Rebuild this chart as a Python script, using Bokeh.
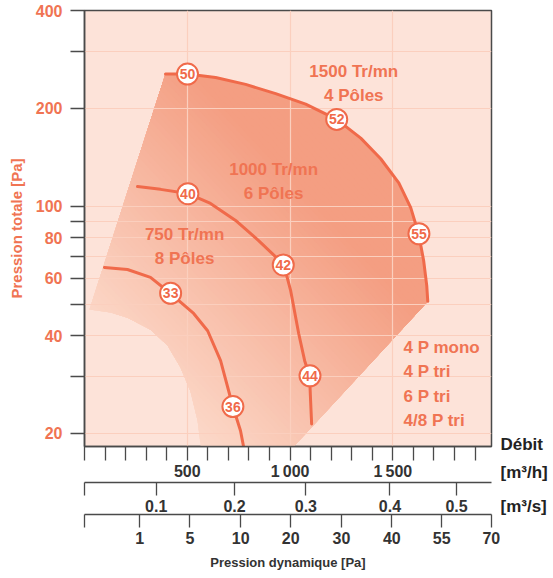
import numpy as np
from bokeh.plotting import figure
from bokeh.layouts import row
from bokeh.models import Range1d, FixedTicker, LinearAxis
from bokeh.embed import file_html
from bokeh.resources import INLINE
from bokeh.core.properties import value

# ---------------- data (flow in m3/h, pressure in Pa) ----------------
X_START, X_END = 0, 1980
Y_START, Y_END = 18.24, 400

flow_4p = [394, 501, 638, 784, 930, 1076, 1227, 1344, 1441, 1529, 1587, 1626, 1650, 1665, 1670]
pres_4p = [255, 255, 249, 237, 222, 206, 185, 162, 140, 118, 99, 82, 68, 57, 51]

flow_6p = [258, 370, 501, 613, 735, 847, 969, 1003, 1042, 1071, 1095, 1100, 1105]
pres_6p = [115, 112.7, 109.5, 102, 90.4, 78.4, 66.2, 55.0, 40.6, 33.5, 30.1, 25.2, 21.4]

flow_8p = [97, 209, 321, 419, 531, 599, 662, 721, 759, 774]
pres_8p = [64.8, 63.9, 60.4, 53.9, 46.8, 41.4, 33.5, 24.3, 20.4, 18.2]

# lower envelope of the operating zone (after the end of the 4P curve)
env_flow = [1017, 565, 550, 516, 467, 404, 321, 209, 127, 24]
env_pres = [18.2, 18.2, 21.9, 26.9, 31.9, 37.3, 41.7, 45.4, 47.1, 48.1]

mk_flow = [501, 1227, 1627, 503, 967, 1097, 419, 722]
mk_pres = [255, 185, 82.3, 109.3, 66.0, 30.1, 54.0, 24.2]
mk_text = ["50", "52", "55", "40", "42", "44", "33", "36"]

zone_text = ["1500 Tr/mn\n4 Pôles", "1000 Tr/mn\n6 Pôles", "750 Tr/mn\n8 Pôles"]
zone_flow = [1310, 920, 487]
zone_pres = [238, 119.2, 75.2]

legend_text = "4 P mono\n4 P tri\n6 P tri\n4/8 P tri"
legend_flow = 1552
legend_pres = 28.4

y_ticks = [20, 30, 40, 50, 60, 70, 80, 90, 100, 200, 300, 400]
y_labels = ["20", "", "40", "", "60", "", "80", "", "100", "200", "", "400"]

flow_ticks = [0, 100, 200, 300, 400, 500, 600, 700, 800, 900, 1000,
              1100, 1200, 1300, 1400, 1500, 1600, 1700, 1800, 1900]
flow_labels = {500: "500", 1000: "1\u2009000", 1500: "1\u2009500"}

ms_pos = [0, 349, 730, 1077, 1486, 1810]
ms_labels = ["", "0.1", "0.2", "0.3", "0.4", "0.5"]

pa_pos = [0, 268, 513, 760, 1003, 1250, 1495, 1738, 1979]
pa_labels = ["", "1", "5", "10", "20", "30", "40", "55", "70"]

grid_x = [500, 1000, 1500]

unit_texts = ["Débit", "[m³/h]", "[m³/s]"]

# ---------------- style ----------------
FONT = "Liberation Sans"
ORANGE = "#f06a4a"
TXT = "#f07453"
DARK = "#4a4a4a"
BG = "#fde3d9"
GRID = "#fbcfbe"
LIGHT_RGB = np.array([252, 216, 200])
DEEP_RGB = np.array([244, 158, 130])
H = 574

p = figure(width=500, height=H, x_range=Range1d(X_START, X_END),
           y_range=Range1d(Y_START, Y_END), y_axis_type="log",
           output_backend="svg", toolbar_location=None,
           min_border_left=84, min_border_right=9, min_border_top=10,
           min_border_bottom=128)
p.frame_align = False
p.background_fill_color = BG
p.border_fill_color = "white"
p.outline_line_color = DARK
p.outline_line_width = 1.5

# grid
p.xgrid.ticker = FixedTicker(ticks=grid_x)
p.ygrid.ticker = FixedTicker(ticks=y_ticks)
for g in (p.xgrid[0], p.ygrid[0]):
    g.grid_line_color = GRID
    g.grid_line_width = 1.2

# ---------------- gradient zone ----------------
poly_x = np.array(flow_4p + env_flow, dtype=float)
poly_y = np.array(pres_4p + env_pres, dtype=float)
ly0, ly1 = np.log10(Y_START), np.log10(Y_END)
U = (poly_x - X_START) / (X_END - X_START)
V = (np.log10(poly_y) - ly0) / (ly1 - ly0)


def clip(us, vs, t):
    ou, ov = [], []
    n = len(us)
    for i in range(n):
        u1, v1, u2, v2 = us[i], vs[i], us[(i + 1) % n], vs[(i + 1) % n]
        f1, f2 = u1 + v1 - t, u2 + v2 - t
        if f1 >= 0:
            ou.append(u1); ov.append(v1)
        if (f1 >= 0) != (f2 >= 0):
            r = f1 / (f1 - f2)
            ou.append(u1 + r * (u2 - u1)); ov.append(v1 + r * (v2 - v1))
    return np.array(ou), np.array(ov)


S = U + V
s_lo, s_hi = 0.30, 1.12
xs, ys, cols = [], [], []
for t in np.linspace(S.min() - 1e-6, S.max(), 70)[:-1]:
    cu, cv = clip(U, V, t)
    if len(cu) < 3:
        continue
    f = min(max((t - s_lo) / (s_hi - s_lo), 0), 1)
    c = (LIGHT_RGB + f * (DEEP_RGB - LIGHT_RGB)).astype(int)
    xs.append(list(X_START + cu * (X_END - X_START)))
    ys.append(list(10 ** (ly0 + cv * (ly1 - ly0))))
    cols.append("#%02x%02x%02x" % tuple(c))
p.patches(xs=xs, ys=ys, fill_color=cols, line_color=None, level="image")

# ---------------- curves ----------------
for fx, py in ((flow_4p, pres_4p), (flow_6p, pres_6p), (flow_8p, pres_8p)):
    p.line(fx, py, line_color=ORANGE, line_width=3, line_cap="round",
           line_join="round")

p.scatter(mk_flow, mk_pres, marker="circle", size=21, fill_color="white",
          line_color=ORANGE, line_width=2)
p.text(mk_flow, mk_pres, text=mk_text, text_font=value(FONT), text_font_style="bold",
       text_font_size="14px", text_color=ORANGE, text_align="center",
       text_baseline="middle")

p.text(zone_flow, zone_pres, text=zone_text, text_font=value(FONT),
       text_font_style="bold", text_font_size="17px", text_color=TXT,
       text_align="center", text_baseline="middle", text_line_height=1.25)
p.text([legend_flow], [legend_pres], text=[legend_text], text_font=value(FONT),
       text_font_style="bold", text_font_size="17px", text_color=TXT,
       text_align="left", text_baseline="middle", text_line_height=1.27)

# ---------------- axes ----------------
ya = p.left[0]
ya.ticker = FixedTicker(ticks=y_ticks)
ya.major_label_overrides = dict(zip(y_ticks, y_labels))
ya.major_tick_in = 0
ya.major_tick_out = 14
ya.minor_tick_line_color = None
ya.major_tick_line_color = DARK
ya.major_tick_line_width = 1.5
ya.axis_line_color = DARK
ya.axis_line_width = 1.5
ya.major_label_standoff = 8
ya.major_label_text_font = FONT
ya.major_label_text_font_style = "bold"
ya.major_label_text_font_size = "16px"
ya.major_label_text_color = TXT
ya.axis_label = "Pression totale [Pa]"
ya.axis_label_text_font = FONT
ya.axis_label_text_font_style = "bold"
ya.axis_label_text_font_size = "15px"
ya.axis_label_text_color = TXT
ya.axis_label_standoff = 8


def style_x(ax, tick_out, standoff):
    ax.major_tick_in = 0
    ax.major_tick_out = tick_out
    ax.minor_tick_line_color = None
    ax.major_tick_line_color = DARK
    ax.major_tick_line_width = 1.3
    ax.axis_line_color = DARK
    ax.axis_line_width = 1.5
    ax.major_label_standoff = standoff
    ax.major_label_text_font = FONT
    ax.major_label_text_font_style = "bold"
    ax.major_label_text_font_size = "16px"
    ax.major_label_text_color = "#333333"


xa1 = p.below[0]
xa1.ticker = FixedTicker(ticks=flow_ticks)
xa1.major_label_overrides = {t: flow_labels.get(t, "") for t in flow_ticks}
style_x(xa1, 14, 2)

xa2 = LinearAxis(ticker=FixedTicker(ticks=ms_pos),
                 major_label_overrides=dict(zip(ms_pos, ms_labels)))
style_x(xa2, 13, 4)
p.add_layout(xa2, "below")

xa3 = LinearAxis(ticker=FixedTicker(ticks=pa_pos),
                 major_label_overrides=dict(zip(pa_pos, pa_labels)),
                 axis_label="Pression dynamique [Pa]")
style_x(xa3, 13, 4)
xa3.axis_label_text_font = FONT
xa3.axis_label_text_font_style = "bold"
xa3.axis_label_text_font_size = "13px"
xa3.axis_label_text_color = "#333333"
xa3.axis_label_standoff = 8
p.add_layout(xa3, "below")

# ---------------- unit labels on the right (own small panel) ----------------
q = figure(width=50, height=H, x_range=Range1d(0, 50), y_range=Range1d(H, 0),
           x_axis_type=None, y_axis_type=None, output_backend="svg",
           toolbar_location=None, min_border=0)
q.frame_align = False
q.outline_line_color = None
q.background_fill_color = "white"
q.border_fill_color = "white"
q.text([0, 0, 0], [444, 471.5, 506], text=unit_texts, text_font=value(FONT),
       text_font_style="bold", text_font_size="17px", text_color="#222222",
       text_align="left", text_baseline="middle")

layout = row(p, q, spacing=0)
open("out.html", "w").write(file_html(layout, INLINE))
